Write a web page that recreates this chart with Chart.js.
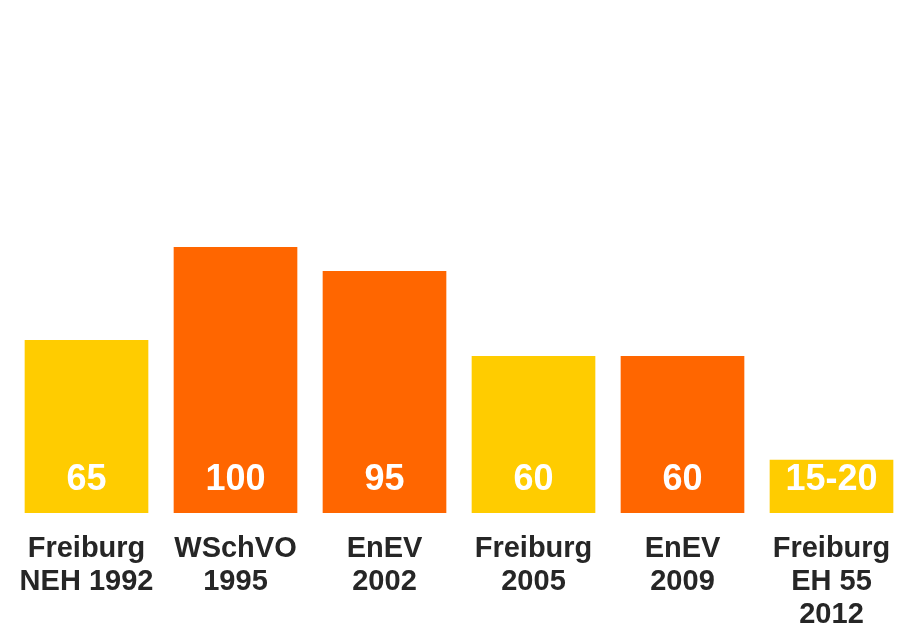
<!DOCTYPE html>
<html>
<head>
<meta charset="utf-8">
<script src="https://cdn.jsdelivr.net/npm/chart.js@4.4.1/dist/chart.umd.min.js"></script>
<style>
html,body{margin:0;padding:0;background:#fff;}
canvas{display:block;}
</style>
</head>
<body>
<canvas id="c" width="906" height="631"></canvas>
<script>
const categories = [
  ["Freiburg", "NEH 1992"],
  ["WSchVO", "1995"],
  ["EnEV", "2002"],
  ["Freiburg", "2005"],
  ["EnEV", "2009"],
  ["Freiburg", "EH 55", "2012"]
];
const values = [65, 100, 91, 59, 59, 20];
const valueLabels = ["65", "100", "95", "60", "60", "15-20"];
const barColors = ["#FFCC00", "#FF6600", "#FF6600", "#FFCC00", "#FF6600", "#FFCC00"];

const valueLabelPlugin = {
  id: 'valueLabels',
  afterDatasetsDraw(chart) {
    const ctx = chart.ctx;
    const meta = chart.getDatasetMeta(0);
    ctx.save();
    ctx.fillStyle = '#FFFFFF';
    ctx.font = 'bold 36px "Liberation Sans", Arial, sans-serif';
    ctx.textAlign = 'center';
    ctx.textBaseline = 'middle';
    meta.data.forEach((bar, i) => {
      ctx.fillText(valueLabels[i], bar.x, bar.base - 33);
    });
    ctx.restore();
  }
};

new Chart(document.getElementById('c'), {
  type: 'bar',
  data: {
    labels: categories,
    datasets: [{
      data: values,
      backgroundColor: barColors,
      borderWidth: 0,
      barPercentage: 0.83,
      categoryPercentage: 1.0
    }]
  },
  options: {
    responsive: false,
    animation: false,
    layout: { padding: { top: 247, left: 12, right: 0, bottom: 0 } },
    plugins: { legend: { display: false }, tooltip: { enabled: false } },
    scales: {
      y: { display: false, min: 0, max: 100 },
      x: {
        grid: { display: false },
        border: { display: false },
        ticks: {
          color: '#262626',
          padding: 11,
          maxRotation: 0,
          autoSkip: false,
          font: { family: '"Liberation Sans", Arial, sans-serif', size: 29, weight: 'bold', lineHeight: 1.15 }
        },
        afterFit(axis) { axis.height = 118; }
      }
    }
  },
  plugins: [valueLabelPlugin]
});
</script>
</body>
</html>
